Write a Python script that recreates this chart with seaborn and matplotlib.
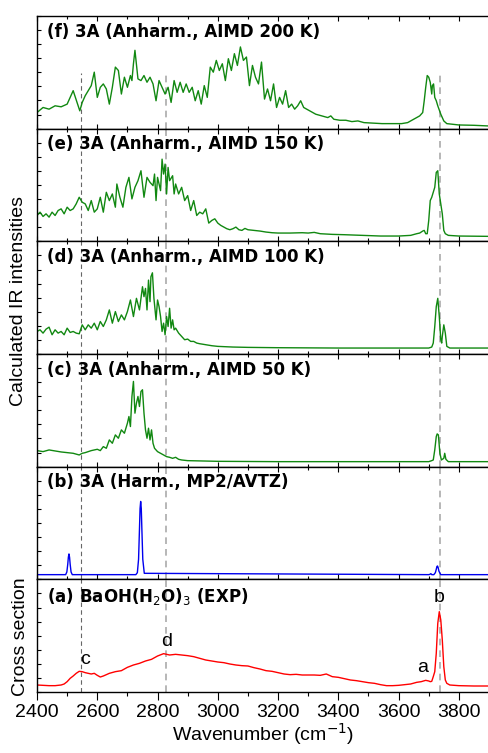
import numpy as np
import pandas as pd
import matplotlib
matplotlib.use("Agg")
import matplotlib.pyplot as plt
import seaborn as sns
from matplotlib.ticker import MultipleLocator, NullFormatter

# ---------------- data (arbitrary intensity units) ----------------
# (f) AIMD 200 K
f_x = [2400, 2420, 2440, 2460, 2480, 2500, 2520, 2542, 2550, 2560, 2570, 2580, 2590, 2600,
       2610, 2620, 2630, 2640, 2650, 2660, 2670, 2680, 2690, 2700, 2710, 2715, 2720, 2725,
       2735, 2745, 2755, 2765, 2775, 2785, 2795, 2805, 2815, 2825, 2835, 2845, 2855, 2865,
       2875, 2885, 2895, 2905, 2915, 2925, 2935, 2945, 2955, 2965, 2975, 2985, 2995, 3005,
       3015, 3025, 3035, 3045, 3055, 3065, 3075, 3085, 3095, 3105, 3115, 3125, 3135, 3145,
       3155, 3165, 3175, 3185, 3195, 3205, 3215, 3225, 3235, 3245, 3255, 3265, 3275, 3285,
       3295, 3305, 3315, 3325, 3345, 3365, 3375, 3385, 3405, 3425, 3445, 3465, 3485, 3505,
       3545, 3585, 3610, 3630, 3650, 3660, 3670, 3680, 3685, 3690, 3695, 3700, 3705, 3710,
       3712, 3716, 3720, 3725, 3730, 3740, 3750, 3760, 3780, 3800, 3850, 3900]
f_zy = [335, 320, 325, 315, 318, 310, 270, 330, 305, 285, 270, 255, 215, 290,
        260, 250, 265, 310, 260, 200, 210, 280, 230, 260, 225, 240, 190, 150,
        235, 240, 225, 245, 230, 250, 300, 240, 260, 280, 260, 305, 240, 275,
        245, 275, 250, 275, 260, 300, 270, 310, 255, 290, 200, 215, 180, 210,
        190, 240, 175, 210, 160, 195, 140, 180, 170, 255, 195, 230, 250, 185,
        295, 265, 300, 250, 320, 290, 310, 270, 320, 310, 325, 315, 300, 320,
        325, 330, 335, 340, 345, 350, 345, 355, 358, 358, 362, 360, 365, 366,
        368, 368, 368, 365, 355, 350, 345, 335, 300, 260, 225, 230, 245, 280,
        255, 250, 290, 300, 315, 340, 360, 368, 370, 372, 373, 375]
f_y = [383 - v for v in f_zy]

# (e) AIMD 150 K
e_x = [2400, 2410, 2420, 2430, 2440, 2450, 2460, 2470, 2480, 2490, 2500, 2510, 2520, 2530,
       2540, 2550, 2560, 2570, 2580, 2590, 2600, 2610, 2620, 2630, 2640, 2650, 2660, 2665,
       2675, 2685, 2695, 2705, 2715, 2725, 2735, 2745, 2755, 2765, 2775, 2785, 2790, 2795,
       2800, 2810, 2815, 2820, 2825, 2830, 2835, 2840, 2850, 2855, 2860, 2870, 2880, 2890,
       2900, 2910, 2920, 2930, 2940, 2950, 2960, 2970, 2980, 2990, 3000, 3010, 3020, 3030,
       3040, 3050, 3060, 3070, 3080, 3090, 3100, 3120, 3140, 3160, 3180, 3200, 3240, 3280,
       3300, 3320, 3340, 3380, 3420, 3480, 3540, 3600, 3640, 3660, 3670, 3680, 3685, 3690,
       3695, 3700, 3705, 3710, 3715, 3720, 3725, 3730, 3735, 3740, 3745, 3750, 3755, 3765,
       3800, 3900]
e_zy = [645, 635, 648, 640, 650, 635, 645, 630, 625, 640, 620, 630, 625, 610,
        590, 605, 610, 630, 600, 635, 625, 590, 635, 575, 600, 580, 620, 550,
        590, 620, 560, 530, 595, 560, 540, 510, 590, 530, 545, 555, 520, 600,
        530, 570, 475, 520, 490, 580, 500, 540, 525, 580, 550, 580, 560, 600,
        585, 630, 600, 645, 635, 640, 625, 668, 660, 655, 668, 675, 680, 685,
        688, 685, 680, 688, 690, 684, 688, 690, 692, 695, 697, 698, 698, 697,
        698, 696, 700, 702, 703, 705, 707, 707, 705, 700, 698, 692, 690, 700,
        700, 660, 600, 590, 575, 560, 515, 510, 580, 610, 640, 690, 700, 705,
        707, 708]
e_y = [723 - v for v in e_zy]

# (d) AIMD 100 K
d_x = [2400, 2410, 2420, 2430, 2440, 2450, 2460, 2470, 2480, 2490, 2500, 2510, 2520, 2530,
       2540, 2550, 2560, 2570, 2580, 2590, 2600, 2610, 2620, 2630, 2640, 2650, 2660, 2670,
       2680, 2690, 2700, 2710, 2720, 2730, 2740, 2750, 2755, 2760, 2765, 2770, 2775, 2778,
       2783, 2788, 2795, 2800, 2805, 2810, 2815, 2820, 2825, 2830, 2835, 2840, 2845, 2850,
       2855, 2860, 2870, 2880, 2890, 2900, 2910, 2920, 2930, 2940, 2960, 2980, 3000, 3050,
       3100, 3200, 3400, 3600, 3700, 3710, 3715, 3720, 3725, 3730, 3735, 3740, 3743, 3745,
       3750, 3755, 3760, 3770, 3900]
d_zy = [275, 270, 280, 268, 262, 285, 270, 280, 275, 285, 265, 278, 275, 280,
        282, 255, 270, 255, 265, 250, 270, 245, 260, 240, 210, 250, 215, 245,
        225, 240, 215, 180, 230, 175, 210, 140, 170, 145, 210, 120, 185, 110,
        98, 175, 240, 180, 200, 230, 275, 250, 285, 230, 260, 205, 265, 240,
        270, 265, 280, 290, 300, 298, 305, 305, 310, 312, 315, 318, 320, 322,
        323, 324, 325, 325, 325, 322, 310, 260, 200, 175, 230, 300, 310, 290,
        255, 280, 320, 325, 325]
d_y = [343 - v for v in d_zy]

# (c) AIMD 50 K
c_x = [2400, 2420, 2440, 2460, 2480, 2500, 2520, 2540, 2550, 2560, 2580, 2600, 2610, 2620,
       2630, 2640, 2650, 2660, 2670, 2680, 2690, 2700, 2705, 2710, 2715, 2720, 2725, 2730,
       2735, 2740, 2745, 2750, 2755, 2760, 2765, 2770, 2775, 2780, 2785, 2790, 2800, 2810,
       2820, 2830, 2840, 2850, 2860, 2870, 2880, 2900, 2950, 3000, 3200, 3700, 3710, 3715,
       3720, 3725, 3728, 3732, 3737, 3742, 3750, 3753, 3757, 3765, 3900]
c_zy = [632, 635, 630, 633, 636, 638, 640, 645, 640, 638, 632, 628, 632, 620,
        625, 600, 610, 585, 595, 570, 580, 550, 530, 560, 470, 425, 520, 490,
        470, 500, 455, 450, 520, 570, 595, 565, 600, 570, 610, 625, 635, 640,
        645, 650, 652, 655, 652, 658, 660, 662, 663, 664, 665, 665, 662, 660,
        630, 590, 582, 585, 640, 660, 655, 640, 658, 665, 665]
c_y = [680 - v for v in c_zy]

# (b) Harmonic MP2/AVTZ (broadened sticks)
b_x = [2400, 2495, 2499, 2502, 2504, 2506, 2508, 2510, 2513, 2517,
       2728, 2733, 2737, 2740, 2742, 2744, 2746, 2748, 2751, 2756,
       3700, 3704, 3707, 3710, 3717, 3722, 3725, 3727, 3729, 3731, 3734, 3740, 3900]
b_y = [14, 14, 22, 45, 66, 76, 66, 45, 22, 14,
       14, 20, 60, 150, 212, 233, 212, 150, 60, 18,
       14, 15, 17, 14, 14, 20, 30, 38, 40, 36, 24, 14, 14]

# (a) Experiment BaOH(H2O)3
a_x = [2400, 2420, 2440, 2460, 2480, 2490, 2500, 2510, 2520, 2530, 2540, 2550, 2560, 2570,
       2580, 2590, 2600, 2610, 2620, 2640, 2660, 2680, 2700, 2720, 2740, 2760, 2780, 2800,
       2820, 2840, 2860, 2880, 2900, 2920, 2940, 2960, 2980, 3000, 3020, 3040, 3060, 3080,
       3100, 3120, 3140, 3160, 3180, 3200, 3220, 3240, 3260, 3280, 3300, 3320, 3340, 3360,
       3380, 3400, 3420, 3440, 3460, 3480, 3500, 3520, 3540, 3560, 3580, 3600, 3620, 3640,
       3660, 3675, 3690, 3700, 3705, 3710, 3715, 3720, 3725, 3730, 3735, 3740, 3745, 3750,
       3755, 3760, 3770, 3800, 3850, 3900]
a_zy = [615, 616, 617, 617, 615, 612, 605, 595, 588, 580, 574, 575, 578, 580,
        582, 580, 586, 591, 588, 580, 575, 572, 562, 555, 550, 543, 538, 528,
        521, 525, 523, 525, 527, 530, 535, 540, 543, 546, 548, 552, 555, 557,
        558, 563, 567, 572, 574, 578, 582, 584, 583, 585, 585, 585, 586, 582,
        590, 592, 596, 600, 602, 605, 608, 610, 614, 617, 617, 616, 614, 612,
        607, 605, 601, 603, 605, 604, 590, 575, 520, 430, 395, 420, 480, 560,
        600, 610, 615, 617, 618, 618]
a_y = [636 - v for v in a_zy]

titles = ["(f) 3A (Anharm., AIMD 200 K)",
          "(e) 3A (Anharm., AIMD 150 K)",
          "(d) 3A (Anharm., AIMD 100 K)",
          "(c) 3A (Anharm., AIMD 50 K)",
          "(b) 3A (Harm., MP2/AVTZ)",
          r"(a) BaOH(H$_2$O)$_3$ (EXP)"]
series = [(f_x, f_y), (e_x, e_y), (d_x, d_y), (c_x, c_y), (b_x, b_y), (a_x, a_y)]
colors = ["#118811", "#118811", "#118811", "#118811", "#0000ee", "#ff0000"]
ytops = [335, 340, 340, 337, 337, 338]

xticks = [2400, 2600, 2800, 3000, 3200, 3400, 3600, 3800]
ref_lines = [2545, 2827, 3737]

peak_labels = ["c", "d", "a", "b"]
peak_label_x = [2560, 2830, 3680, 3733]
peak_label_y = [98, 153, 72, 282]

# ---------------- plotting ----------------
sns.set_style("ticks")
plt.rcParams["font.family"] = ["Liberation Sans", "DejaVu Sans"]
plt.rcParams["axes.linewidth"] = 1.0
for k in ["text.color", "axes.labelcolor", "xtick.color", "ytick.color", "axes.edgecolor"]:
    plt.rcParams[k] = "black"

fig, axes = plt.subplots(6, 1, figsize=(4.89, 7.53), dpi=100, sharex=True,
                         gridspec_kw=dict(hspace=0))
fig.subplots_adjust(left=0.0757, right=1.0, top=1 - 16 / 753, bottom=1 - 692 / 753)

for i, ax in enumerate(axes):
    xs, ys = series[i]
    df = pd.DataFrame({"x": xs, "y": ys})
    sns.lineplot(data=df, x="x", y="y", ax=ax, color=colors[i], lw=1.0,
                 estimator=None, sort=False)
    ax.set_xlim(2400, 3900)
    ax.set_ylim(0, ytops[i])
    ax.set_xlabel("")
    ax.set_ylabel("")
    ax.yaxis.set_major_locator(MultipleLocator(ytops[i] / 8))
    ax.yaxis.set_major_formatter(NullFormatter())
    ax.tick_params(axis="y", direction="in", length=3, width=0.8, left=True, right=False)
    ax.xaxis.set_major_locator(MultipleLocator(200))
    ax.xaxis.set_minor_locator(MultipleLocator(100))
    ax.tick_params(axis="x", which="both", direction="in", top=True, bottom=True,
                   width=0.8)
    ax.tick_params(axis="x", which="major", length=3.5)
    ax.tick_params(axis="x", which="minor", length=2)
    for sp in ax.spines.values():
        sp.set_linewidth(1.0)
        sp.set_color("black")
    ymax = 0.49 if i == 0 else 1.0
    ax.axvline(ref_lines[0], ymin=0, ymax=ymax, color="#666666", lw=0.8,
               ls=(0, (4, 3)), zorder=0)
    for xv in ref_lines[1:]:
        ax.axvline(xv, ymin=0, ymax=ymax, color="#aaaaaa", lw=1.2,
                   ls=(0, (4, 3)), zorder=0)
    ax.text(0.022, 0.94, titles[i], transform=ax.transAxes, ha="left", va="top",
            fontsize=12, fontweight="bold", family="DejaVu Sans")

axb = axes[-1]
axb.tick_params(axis="x", which="both", direction="out", bottom=True, top=False)
axb.tick_params(axis="x", which="major", length=5.5, labelsize=14, pad=3)
axb.tick_params(axis="x", which="minor", length=3)
axb.set_xticks(xticks)
axb.set_xlabel("Wavenumber (cm$^{-1}$)", fontsize=14, labelpad=0)
for lab, lx, ly in zip(peak_labels, peak_label_x, peak_label_y):
    axb.text(lx, ly, lab, ha="center", va="center", fontsize=14)

fig.text(0.037, 1 - 301 / 753, "Calculated IR intensities", rotation=90,
         ha="center", va="center", fontsize=14)
fig.text(0.041, 1 - 637 / 753, "Cross section", rotation=90,
         ha="center", va="center", fontsize=14)

fig.savefig("out.png", dpi=100)
